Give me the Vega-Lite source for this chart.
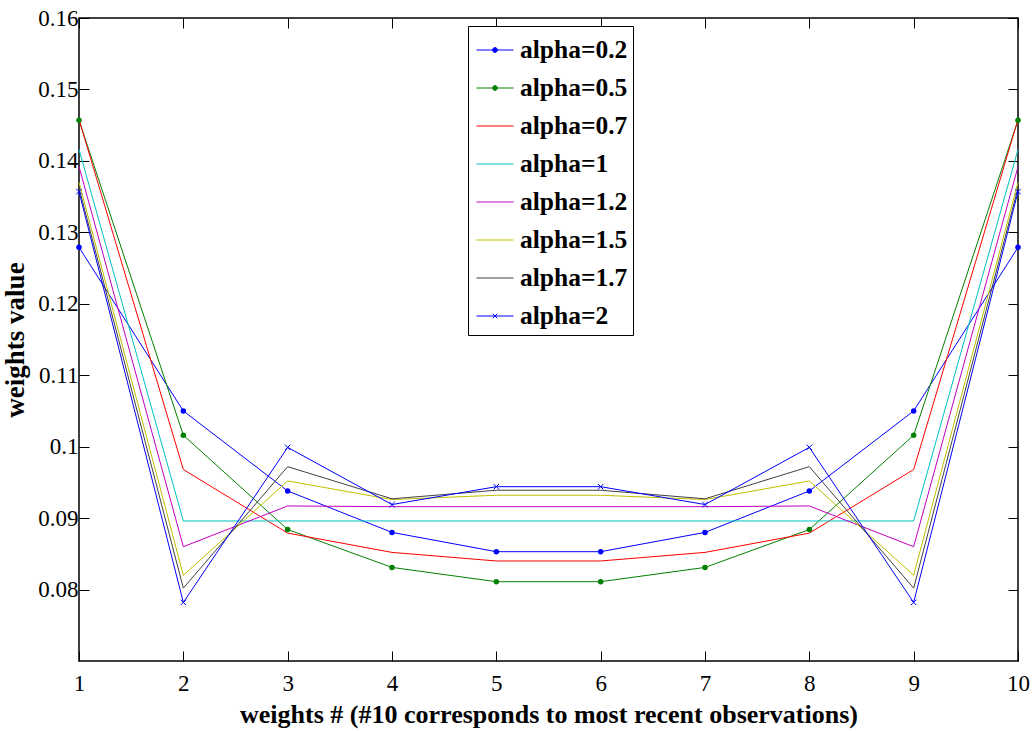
{
  "$schema": "https://vega.github.io/schema/vega-lite/v6.json",
  "width": 939,
  "height": 643,
  "autosize": {"type": "none"},
  "padding": {"left": 79, "top": 18, "right": 17, "bottom": 72},
  "background": "white",
  "config": {
    "view": {"stroke": "black", "strokeWidth": 1.5},
    "font": "Liberation Serif",
    "axis": {"grid": false, "domain": false, "tickColor": "black", "tickSize": -10, "tickWidth": 1, "labelColor": "black", "labelFont": "Liberation Serif", "labelFontSize": 23, "titleFont": "Liberation Serif", "titleFontSize": 26, "titleFontWeight": "bold", "titleColor": "black", "labelFlush": false}
  },
  "data": {"values": [
    {"s":"alpha=0.2","x":1,"w":0.1279},{"s":"alpha=0.2","x":2,"w":0.1050},{"s":"alpha=0.2","x":3,"w":0.0938},{"s":"alpha=0.2","x":4,"w":0.0880},{"s":"alpha=0.2","x":5,"w":0.0853},{"s":"alpha=0.2","x":6,"w":0.0853},{"s":"alpha=0.2","x":7,"w":0.0880},{"s":"alpha=0.2","x":8,"w":0.0938},{"s":"alpha=0.2","x":9,"w":0.1050},{"s":"alpha=0.2","x":10,"w":0.1279},
    {"s":"alpha=0.5","x":1,"w":0.1457},{"s":"alpha=0.5","x":2,"w":0.1016},{"s":"alpha=0.5","x":3,"w":0.0884},{"s":"alpha=0.5","x":4,"w":0.0831},{"s":"alpha=0.5","x":5,"w":0.0811},{"s":"alpha=0.5","x":6,"w":0.0811},{"s":"alpha=0.5","x":7,"w":0.0831},{"s":"alpha=0.5","x":8,"w":0.0884},{"s":"alpha=0.5","x":9,"w":0.1016},{"s":"alpha=0.5","x":10,"w":0.1457},
    {"s":"alpha=0.7","x":1,"w":0.1458},{"s":"alpha=0.7","x":2,"w":0.0968},{"s":"alpha=0.7","x":3,"w":0.0879},{"s":"alpha=0.7","x":4,"w":0.0852},{"s":"alpha=0.7","x":5,"w":0.0840},{"s":"alpha=0.7","x":6,"w":0.0840},{"s":"alpha=0.7","x":7,"w":0.0852},{"s":"alpha=0.7","x":8,"w":0.0879},{"s":"alpha=0.7","x":9,"w":0.0968},{"s":"alpha=0.7","x":10,"w":0.1458},
    {"s":"alpha=1","x":1,"w":0.1416},{"s":"alpha=1","x":2,"w":0.0896},{"s":"alpha=1","x":3,"w":0.0896},{"s":"alpha=1","x":4,"w":0.0896},{"s":"alpha=1","x":5,"w":0.0896},{"s":"alpha=1","x":6,"w":0.0896},{"s":"alpha=1","x":7,"w":0.0896},{"s":"alpha=1","x":8,"w":0.0896},{"s":"alpha=1","x":9,"w":0.0896},{"s":"alpha=1","x":10,"w":0.1416},
    {"s":"alpha=1.2","x":1,"w":0.1392},{"s":"alpha=1.2","x":2,"w":0.0860},{"s":"alpha=1.2","x":3,"w":0.0917},{"s":"alpha=1.2","x":4,"w":0.0916},{"s":"alpha=1.2","x":5,"w":0.0916},{"s":"alpha=1.2","x":6,"w":0.0916},{"s":"alpha=1.2","x":7,"w":0.0916},{"s":"alpha=1.2","x":8,"w":0.0917},{"s":"alpha=1.2","x":9,"w":0.0860},{"s":"alpha=1.2","x":10,"w":0.1392},
    {"s":"alpha=1.5","x":1,"w":0.1370},{"s":"alpha=1.5","x":2,"w":0.0820},{"s":"alpha=1.5","x":3,"w":0.0952},{"s":"alpha=1.5","x":4,"w":0.0926},{"s":"alpha=1.5","x":5,"w":0.0932},{"s":"alpha=1.5","x":6,"w":0.0932},{"s":"alpha=1.5","x":7,"w":0.0926},{"s":"alpha=1.5","x":8,"w":0.0952},{"s":"alpha=1.5","x":9,"w":0.0820},{"s":"alpha=1.5","x":10,"w":0.1370},
    {"s":"alpha=1.7","x":1,"w":0.1362},{"s":"alpha=1.7","x":2,"w":0.0802},{"s":"alpha=1.7","x":3,"w":0.0972},{"s":"alpha=1.7","x":4,"w":0.0927},{"s":"alpha=1.7","x":5,"w":0.0939},{"s":"alpha=1.7","x":6,"w":0.0939},{"s":"alpha=1.7","x":7,"w":0.0927},{"s":"alpha=1.7","x":8,"w":0.0972},{"s":"alpha=1.7","x":9,"w":0.0802},{"s":"alpha=1.7","x":10,"w":0.1362},
    {"s":"alpha=2","x":1,"w":0.1357},{"s":"alpha=2","x":2,"w":0.0782},{"s":"alpha=2","x":3,"w":0.0999},{"s":"alpha=2","x":4,"w":0.0919},{"s":"alpha=2","x":5,"w":0.0944},{"s":"alpha=2","x":6,"w":0.0944},{"s":"alpha=2","x":7,"w":0.0919},{"s":"alpha=2","x":8,"w":0.0999},{"s":"alpha=2","x":9,"w":0.0782},{"s":"alpha=2","x":10,"w":0.1357}
  ]},
  "resolve": {"axis": {"x": "independent", "y": "independent"}},
  "layer": [
    {
      "mark": {"type": "line", "strokeWidth": 1},
      "encoding": {
        "x": {"field": "x", "type": "quantitative", "scale": {"domain": [1, 10], "nice": false, "zero": false},
              "axis": {"values": [1,2,3,4,5,6,7,8,9,10], "format": "d", "labelFont": "Liberation Serif", "labelFontSize": 23, "labelFlush": false, "labelPadding": 21, "title": "weights # (#10 corresponds to most recent observations)", "titleFont": "Liberation Serif", "titleFontSize": 26, "titlePadding": 6}},
        "y": {"field": "w", "type": "quantitative", "scale": {"domain": [0.07, 0.16], "nice": false, "zero": false},
              "axis": {"values": [0.08,0.09,0.1,0.11,0.12,0.13,0.14,0.15,0.16], "labelExpr": "toString(round(datum.value*100)/100)", "labelFont": "Liberation Serif", "labelFontSize": 23, "labelFlush": false, "labelPadding": 11, "title": "weights value", "titleFont": "Liberation Serif", "titleFontSize": 27, "titlePadding": 8}},
        "color": {"field": "s", "type": "nominal",
          "scale": {"domain": ["alpha=0.2","alpha=0.5","alpha=0.7","alpha=1","alpha=1.2","alpha=1.5","alpha=1.7","alpha=2"],
                    "range": ["#0000FF","#008000","#FF0000","#00BFBF","#BF00BF","#BFBF00","#404040","#0000FF"]},
          "legend": {
            "title": null, "orient": "none", "legendX": 389, "legendY": 8,
            "strokeColor": "black", "fillColor": "white", "padding": 5,
            "labelFont": "Liberation Serif", "labelFontSize": 25.5, "labelFontWeight": "bold", "labelColor": "black",
            "labelOffset": 6, "symbolSize": 1369, "symbolStrokeWidth": 1, "rowPadding": 5, "symbolOffset": 3,
            "encode": {"symbols": {"update": {
              "shape": {"signal": "datum.value == 'alpha=0.2' || datum.value == 'alpha=0.5' ? 'M-1,0L1,0M0.13,0A0.13,0.13 0 1,1 -0.13,0A0.13,0.13 0 1,1 0.13,0Z' : (datum.value == 'alpha=2' ? 'M-1,0L1,0M-0.12,-0.12L0.12,0.12M-0.12,0.12L0.12,-0.12' : 'M-1,0L1,0')"},
              "fill": {"signal": "scale('color', datum.value)"},
              "fillOpacity": {"value": 1}
            }}}
          }
        }
      }
    },
    {
      "transform": [{"filter": "datum.s == 'alpha=0.2' || datum.s == 'alpha=0.5'"}],
      "mark": {"type": "point", "shape": "circle", "filled": true, "size": 30, "opacity": 1},
      "encoding": {
        "x": {"field": "x", "type": "quantitative", "axis": {"orient": "top", "values": [1,2,3,4,5,6,7,8,9,10], "labels": false, "title": null}},
        "y": {"field": "w", "type": "quantitative", "axis": {"orient": "right", "values": [0.08,0.09,0.1,0.11,0.12,0.13,0.14,0.15,0.16], "labels": false, "title": null}},
        "color": {"field": "s", "type": "nominal", "legend": null}
      }
    },
    {
      "transform": [{"filter": "datum.s == 'alpha=2'"}],
      "mark": {"type": "point", "shape": "M-1,-1L1,1M-1,1L1,-1", "filled": false, "size": 30, "strokeWidth": 1, "opacity": 1},
      "encoding": {
        "x": {"field": "x", "type": "quantitative", "axis": null},
        "y": {"field": "w", "type": "quantitative", "axis": null},
        "color": {"field": "s", "type": "nominal", "legend": null}
      }
    }
  ]
}
